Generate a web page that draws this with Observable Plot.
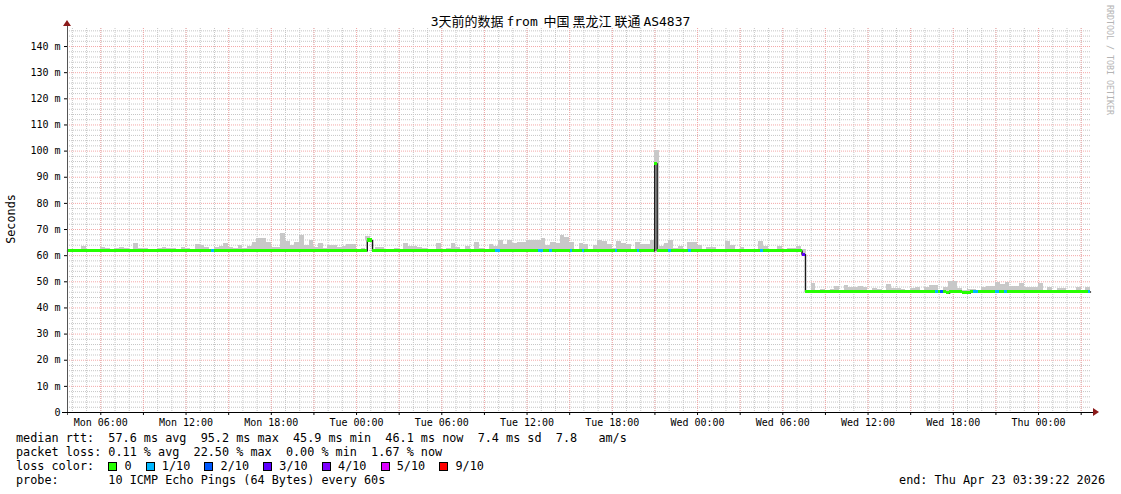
<!DOCTYPE html>
<html><head><meta charset="utf-8">
<script src="https://cdn.jsdelivr.net/npm/d3@7"></script>
<script src="https://cdn.jsdelivr.net/npm/@observablehq/plot@0.6"></script>
<style>
html,body{margin:0;padding:0;background:#fff;}
#wrap{position:relative;width:1121px;height:494px;overflow:hidden;font-family:"DejaVu Sans Mono",monospace;color:#000;background:#fff;}
#chart{position:absolute;left:0;top:0;}
#title{position:absolute;left:0;top:14px;width:1121px;text-align:center;font-size:13px;line-height:14px;white-space:pre;font-family:"DejaVu Sans Mono","Noto Sans CJK SC",monospace;}
#title .sp{font-family:"Noto Sans CJK SC";}
#ylab{position:absolute;left:11px;top:219px;transform:translate(-50%,-50%) rotate(-90deg);font-size:11.8px;white-space:nowrap;}
#wm{position:absolute;left:1110px;top:60px;transform:translate(-50%,-50%) rotate(90deg);font-size:8.3px;color:#b4b4b4;white-space:nowrap;}
#legend{position:absolute;left:16px;top:431px;font-size:11.8px;line-height:14px;white-space:pre;}
#end{position:absolute;right:16px;top:473px;font-size:11.8px;line-height:14px;white-space:pre;}
.sw{display:inline-block;width:9px;height:9px;border:1px solid #000;box-sizing:border-box;vertical-align:-1px;}
.arrow-up{position:absolute;left:63px;top:20px;width:0;height:0;border-left:4px solid transparent;border-right:4px solid transparent;border-bottom:6px solid #8b1a1a;}
.arrow-right{position:absolute;left:1093px;top:408px;width:0;height:0;border-top:4px solid transparent;border-bottom:4px solid transparent;border-left:6px solid #8b1a1a;}
</style>
</head><body>
<div id="wrap">
  <div id="chart"></div>
  <div id="title"></div>
  <div id="ylab"></div>
  <div id="wm"></div>
  <div class="arrow-up"></div>
  <div class="arrow-right"></div>
  <div id="legend"></div>
  <div id="end"></div>
</div>
<script>
// ---------- data ----------
const titleText = "3天前的数据 from  中国 黑龙江 联通 AS4837";
const yAxisTitle = "Seconds";
const watermark = "RRDTOOL / TOBI OETIKER";
const startUTC = "2026-04-20T03:39:22Z";   // Mon, 3 days before end
const spanHours = 72;

const yTicks = [0, 10, 20, 30, 40, 50, 60, 70, 80, 90, 100, 110, 120, 130, 140];

// median rtt (ms) as steps: start hour (from startUTC), value, lost pings of 10
const medianHours = [0, 10.13, 10.35, 21.1, 21.47, 30.12, 30.48, 33.15, 33.5, 33.92, 34.14, 35.4, 35.54,
  36.25, 36.39, 38.57, 38.71, 40.12, 40.26, 41.33, 41.5, 42.3, 42.51, 43.71, 43.92, 48.77, 48.98,
  51.7, 51.94, 61.09, 61.3, 61.44, 61.65, 61.9, 62.1, 63.0, 63.55, 63.77, 64.12, 65.32, 65.6, 65.95, 66.16, 71.86];
const medianValues = [61.8, 61.8, 61.8, 65.8, 61.8, 61.8, 61.8, 61.8, 61.8, 61.8, 61.8, 61.8, 61.8,
  61.8, 61.8, 61.8, 61.8, 61.8, 61.8, 95.2, 61.8, 61.8, 61.8, 61.8, 61.8, 61.8, 61.8,
  60.4, 46.1, 46.1, 46.1, 46.1, 46.1, 45.7, 46.1, 45.7, 46.1, 46.1, 46.1, 46.1, 46.1, 46.1, 46.1, 46.1];
const medianLoss = [0, 1, 0, 0, 0, 1, 0, 1, 0, 1, 0, 1, 0,
  1, 0, 1, 0, 1, 0, 0, 0, 1, 0, 1, 0, 1, 0,
  3, 0, 1, 0, 2, 0, 0, 0, 0, 0, 1, 0, 1, 0, 1, 0, 1];

// upper edge of the smoke (max ping, ms) in 20-minute bins
const smokeTop = [
  62, 62.4, 62, 63.5, 62.4, 62, 62, 63.1, 62.9, 62, 62.9, 63.1, 62.9, 62, 64.7, 62.9, 62.9, 62.4, 62, 62.9,
  63.1, 62.9, 62.7, 62, 63.1, 62.9, 62.4, 64.3, 63.9, 63.1, 62.4, 63.1, 63.5, 64.7, 63.1, 62.7, 63.9, 62.7, 63.5, 65.0,
  66.6, 66.6, 65.0, 63.1, 63.1, 68.5, 65.4, 63.9, 65.0, 67.7, 63.9, 65.8, 63.1, 64.7, 62.9, 63.9, 63.9, 63.1, 63.5, 64.3,
  64.3, 62, 62.9, 67.3, 62, 63.1, 63.1, 62.4, 62, 62.9, 62.4, 64.7, 63.5, 63.5, 63.1, 62.7, 62, 62, 64.7, 62,
  62.9, 64.7, 63.1, 62, 63.5, 62, 65.0, 62.9, 62, 64.3, 63.5, 65.8, 64.3, 65.8, 64.7, 65.0, 65.0, 65.8, 65.8, 65.8,
  66.6, 63.9, 65.0, 64.7, 67.7, 67.0, 65.0, 62.4, 64.7, 64.3, 62, 63.9, 65.8, 65.4, 64.3, 62.7, 65.4, 64.7, 64.3, 62.4,
  65.0, 64.3, 64.3, 65.8, 100.2, 63.5, 64.7, 65.8, 62.7, 63.5, 62.4, 65.0, 65.0, 63.9, 62.4, 63.1, 63.1, 62, 62, 65.4,
  63.9, 62, 63.1, 62, 62, 62, 65.4, 63.5, 62, 62, 63.5, 62, 62.9, 62.7, 63.6, 62.5,
  46, 49.3, 46, 47.0, 46, 47.0, 48.2, 46, 48.6, 47.8, 47.8, 48.2, 47.8, 46.6, 47.4, 47.0, 46, 48.9, 47.4, 47.4,
  47.0, 46.6, 47.4, 47.8, 46.6, 47.8, 48.6, 48.6, 46, 47.8, 50.0, 50.0, 47.4, 46.6, 47.0, 47.0, 46.6, 47.8, 48.2, 48.2,
  49.7, 48.9, 49.7, 48.2, 48.2, 49.3, 47.8, 47.8, 47.8, 49.3, 46, 47.8, 46, 47.4, 47.4, 46, 46, 47.8, 46, 47.8];

const lossLevels = [0, 1, 2, 3, 4, 5, 9];
const lossLabels = ["0", "1/10", "2/10", "3/10", "4/10", "5/10", "9/10"];
const lossColors = ["#26ff00", "#00b8ff", "#0059ff", "#5e00ff", "#7e00ff", "#dd00ff", "#ff0000"];

const statRtt = "median rtt:  57.6 ms avg  95.2 ms max  45.9 ms min  46.1 ms now  7.4 ms sd  7.8   am/s";
const statLoss = "packet loss: 0.11 % avg  22.50 % max  0.00 % min  1.67 % now";
const statProbe = "probe:       10 ICMP Echo Pings (64 Bytes) every 60s";
const endText = "end: Thu Apr 23 03:39:22 2026";

// ---------- build ----------
const t0 = new Date(startUTC).getTime();
const T = h => new Date(t0 + h * 3600e3);
const colorOf = n => lossColors[lossLevels.indexOf(n)];

const segs = medianHours.map((h, i) => ({
  x1: T(h), x2: T(i + 1 < medianHours.length ? medianHours[i + 1] : spanHours),
  v: medianValues[i], fill: colorOf(medianLoss[i])
}));
const linePts = medianHours.map((h, i) => ({t: T(h), v: medianValues[i]}))
  .concat([{t: T(spanHours), v: medianValues[medianValues.length - 1]}]);
function medianAt(h) {
  let v = medianValues[0];
  for (let i = 0; i < medianHours.length; i++) if (medianHours[i] <= h) v = medianValues[i];
  return v;
}
const smoke = smokeTop.map((v, i) => ({
  x1: T(i / 3), x2: T((i + 1) / 3), y1: medianAt((i + 0.5) / 3), y2: v
})).filter(d => d.y2 > d.y1);

const minorY = d3.range(2, 147, 2).filter(v => v % 10 !== 0);
const majorY = yTicks.filter(v => v > 0);
const hours1 = d3.utcHour.range(T(0), T(spanHours));
const hours3 = d3.utcHour.every(3).range(T(0), T(spanHours));
const fmt = d3.utcFormat("%a %H:%M");

const chart = Plot.plot({
  width: 1121, height: 430,
  marginLeft: 67, marginRight: 31, marginTop: 28, marginBottom: 18,
  x: {type: "utc", domain: [T(0), T(spanHours)]},
  y: {domain: [0, 146.9]},
  style: {fontFamily: "DejaVu Sans Mono, monospace", fontSize: "10px", color: "#000", background: "#fff", overflow: "visible"},
  marks: [
    Plot.ruleY(minorY, {stroke: "#c6c6c6", strokeDasharray: "1,1"}),
    Plot.ruleX(hours1, {stroke: "#c6c6c6", strokeDasharray: "1,1"}),
    Plot.ruleX(hours3, {stroke: "#f4a8a8", strokeDasharray: "1,1"}),
    Plot.ruleY(majorY, {stroke: "#f4a8a8", strokeDasharray: "1,1"}),
    Plot.rect(smoke, {x1: "x1", x2: "x2", y1: "y1", y2: "y2", fill: "#c8c8c8", shapeRendering: "crispEdges"}),
    Plot.line(linePts, {x: "t", y: "v", curve: "step-after", stroke: "#1a1a1a", strokeWidth: 1.4}),
    Plot.rect(segs, {x1: "x1", x2: "x2", y1: d => d.v - 0.6, y2: d => d.v + 0.6, fill: "fill", shapeRendering: "crispEdges"}),
    Plot.axisY(yTicks, {tickSize: 3, tickPadding: 4, tickFormat: d => d === 0 ? "0" : `${d} m`}),
    Plot.axisX(hours3, {tickSize: 3, tickPadding: 3, tickFormat: d => d.getUTCHours() % 6 === 0 ? fmt(d) : ""}),
    Plot.ruleX([T(0)], {stroke: "#555", insetTop: -4, insetBottom: -3}),
    Plot.ruleY([0], {stroke: "#000", insetLeft: -5, insetRight: -3})
  ]
});
document.getElementById("chart").appendChild(chart);

// title: spaces set in the CJK font (narrow), as in the reference
const titleEl = document.getElementById("title");
titleText.split(/( )/).forEach(part => {
  if (part === " ") {
    const s = document.createElement("span"); s.className = "sp"; s.textContent = " "; titleEl.appendChild(s);
  } else if (part) {
    titleEl.appendChild(document.createTextNode(part));
  }
});
document.getElementById("ylab").textContent = yAxisTitle;
document.getElementById("wm").textContent = watermark;
document.getElementById("end").textContent = endText;

const legend = document.getElementById("legend");
const addLine = s => { const d = document.createElement("div"); d.textContent = s; legend.appendChild(d); };
addLine(statRtt);
addLine(statLoss);
const lc = document.createElement("div");
lc.appendChild(document.createTextNode("loss color:  "));
lossLabels.forEach((lab, i) => {
  const sw = document.createElement("span");
  sw.className = "sw"; sw.style.background = lossColors[i];
  lc.appendChild(sw);
  lc.appendChild(document.createTextNode(" " + lab + (i < lossLabels.length - 1 ? "  " : "")));
});
legend.appendChild(lc);
addLine(statProbe);
</script>
</body></html>
